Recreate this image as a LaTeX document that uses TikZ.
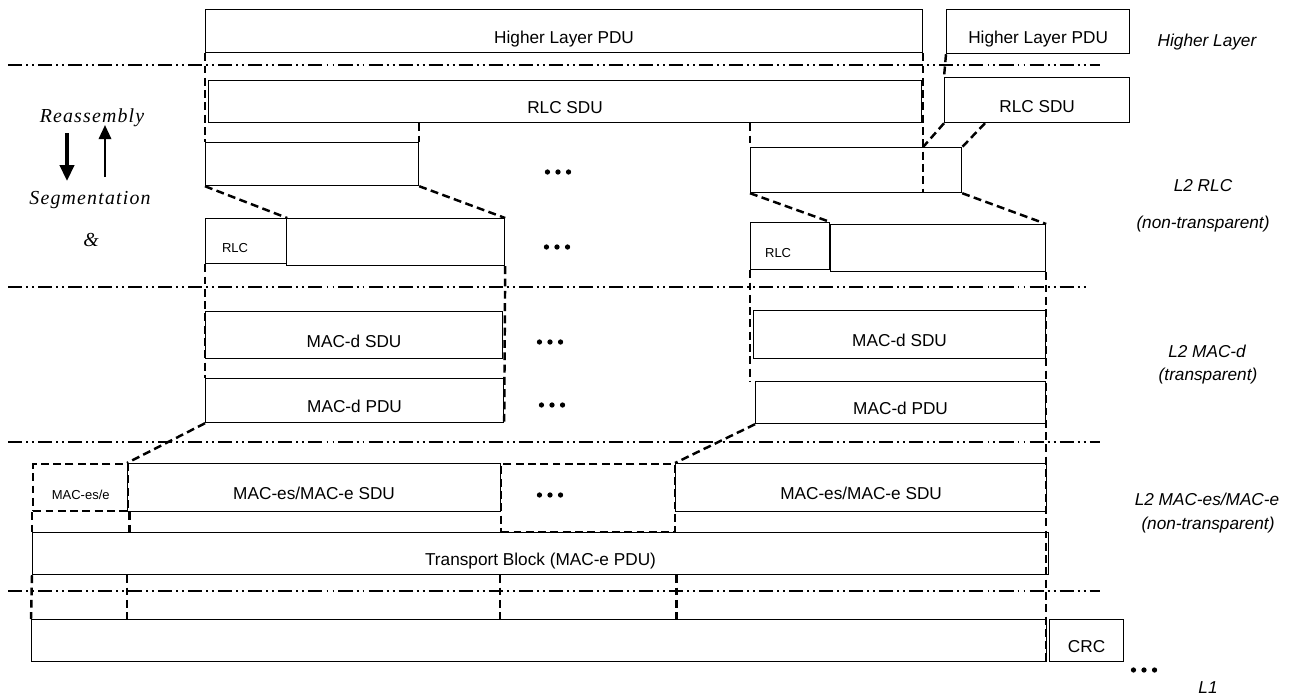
\documentclass[tikz,border=0pt]{standalone}
\usepackage{fontspec}
\setmainfont{Liberation Sans}
\newfontfamily\eqfont[LetterSpace=6]{Liberation Serif}
\usepackage{tikz}
\usetikzlibrary{arrows.meta}

\newcommand{\threedots}{\tikz{\foreach \k in {0,1,2}{\fill (\k*6pt,0pt) circle (1.5pt);}}}

\begin{document}
\begin{tikzpicture}[x=0.02cm, y=-0.02cm]

\tikzstyle{every node} = [inner sep=0pt]
\tikzstyle{pdu} = [draw, rectangle, anchor=north west, line width=0.7pt, text height=13.8pt, text depth=0pt, font=\fontsize{9.8}{11}\selectfont]
\tikzstyle{hdr} = [pdu, dash pattern=on 4.5pt off 2.5pt, line width=1.4pt]
\tikzstyle{tag} = [font=\fontsize{7.4}{9}\selectfont]
\tikzstyle{layer} = [font=\itshape\fontsize{9.8}{11}\selectfont]
\tikzstyle{proc} = [font=\eqfont\itshape\fontsize{11.3}{13}\selectfont]
\tikzstyle{cut} = [line width=1.4pt, dash pattern=on 4.5pt off 2.5pt]
\tikzstyle{sep} = [line width=1.3pt, dash pattern=on 8pt off 2.3pt on 1.1pt off 2.3pt on 1.1pt off 2.3pt]

\useasboundingbox (0,0) rectangle (1290,697);

% layer separators
\foreach \y/\e in {65/1100, 287/1087, 442/1100, 591/1100}
  \draw[sep] (8,\y) -- (\e,\y);

% higher layer
\node[pdu, minimum width=14.34cm, minimum height=0.86cm] (hp1) at (205,9) {Higher Layer PDU};
\node[pdu, minimum width=3.66cm, minimum height=0.88cm] (hp2) at (946,9) {Higher Layer PDU};

% RLC
\node[pdu, minimum width=14.26cm, minimum height=0.84cm] (rs1) at (208,80) {RLC SDU};
\node[pdu, minimum width=3.70cm, minimum height=0.90cm] (rs2) at (944,77) {RLC SDU};

\node[pdu, minimum width=4.26cm, minimum height=0.86cm] (rp1) at (205,142) {};
\node[pdu, minimum width=4.22cm, minimum height=0.90cm] (rp2) at (750,147) {};

\node[pdu, minimum width=1.62cm, minimum height=0.90cm] (rh1) at (205,218) {};
\node[pdu, minimum width=4.36cm, minimum height=0.94cm] (rd1) at (286,218) {};
\node[pdu, minimum width=1.58cm, minimum height=0.94cm] (rh2) at (750,222) {};
\node[pdu, minimum width=4.30cm, minimum height=0.94cm] (rd2) at (830,224) {};
\node[tag] (rt1) at ([xshift=-0.22cm, yshift=-0.13cm]rh1.center) {RLC};
\node[tag] (rt2) at ([xshift=-0.24cm, yshift=-0.13cm]rh2.center) {RLC};

% MAC-d
\node[pdu, minimum width=5.94cm, minimum height=0.94cm] (ds1) at (205,311) {MAC-d SDU};
\node[pdu, minimum width=5.96cm, minimum height=0.88cm] (dp1) at (205,378) {MAC-d PDU};
\node[pdu, minimum width=5.84cm, minimum height=0.96cm] (ds2) at (753,310) {MAC-d SDU};
\node[pdu, minimum width=5.80cm, minimum height=0.84cm] (dp2) at (755,381) {MAC-d PDU};

% MAC-es/MAC-e
\node[hdr, minimum width=1.90cm, minimum height=0.94cm, font=\fontsize{7.4}{9}\selectfont] (eh) at (32,463) {MAC-es/e};
\node[pdu, minimum width=7.46cm, minimum height=0.96cm] (es1) at (127,463) {MAC-es/MAC-e SDU};
\node[hdr, minimum width=3.48cm, minimum height=1.36cm] (em) at (500,463) {};
\node[pdu, minimum width=7.42cm, minimum height=0.96cm] (es2) at (675,463) {MAC-es/MAC-e SDU};
\node[pdu, minimum width=20.32cm, minimum height=0.84cm] (tb) at (32,532) {Transport Block (MAC-e PDU)};

% L1
\node[pdu, minimum width=20.30cm, minimum height=0.84cm] (l1) at (31,619) {};
\node[pdu, minimum width=1.48cm, minimum height=0.84cm] (crc) at (1049,619) {CRC};

% gaps
\node (g1) at (558,172) {\threedots};
\node (g2) at (557,247) {\threedots};
\node (g3) at (550,342) {\threedots};
\node (g4) at (552,405) {\threedots};
\node (g5) at (550,495) {\threedots};
\node (g6) at (1144,670) {\threedots};

% layer names
\node[layer] (n1) at (1207,42) {Higher Layer};
\node[layer] (n2) at (1203,186) {L2 RLC};
\node[layer] (n3) at (1203,224) {(non-transparent)};
\node[layer] (n4) at (1207,351) {L2 MAC-d};
\node[layer] (n5) at (1208,376) {(transparent)};
\node[layer] (n6) at (1207,499) {L2 MAC-es/MAC-e};
\node[layer] (n7) at (1208,525) {(non-transparent)};
\node[layer] (n8) at (1208,688) {L1};

\node[proc] (ra) at (92,118) {Reassembly};
\node[proc] (sg) at (90,200) {Segmentation};
\node[proc] (am) at (91,240) {\&};
\coordinate (sa) at (67,133);
\coordinate (sb) at (67,181);
\coordinate (ua) at (105,177);
\coordinate (ub) at (105,125);
\draw[line width=2pt, -{Triangle[width=8pt, length=9pt]}] (sa) -- (sb);
\draw[line width=1.4pt, -{Triangle[width=7pt, length=8pt]}] (ua) -- (ub);

% segmentation lines
\draw[cut] (hp1.south west) -- (rp1.north west);
\draw[cut] (rp1.north east |- rs1.south) -- (rp1.north east);
\draw[cut] (rp2.north west |- rs1.south) -- (rp2.north west);
\draw[cut] (hp1.south east) -- (hp1.south east |- rp2.south);
\draw[cut] (hp2.south west) -- (rs2.north west);
\draw[cut] (rs2.south west) -- (hp1.south east |- rp2.north);
\draw[cut] ([xshift=0.82cm]rs2.south west) -- (rp2.north east);

\draw[cut] (rp1.south west) -- (rh1.north east);
\draw[cut] (rp1.south east) -- (rd1.north east);
\draw[cut] (rp2.south west) -- (rh2.north east);
\draw[cut] (rp2.south east) -- (rd2.north east);

\draw[cut] (rh1.south west) -- (dp1.north west);
\draw[cut] (rd1.south east) -- (dp1.south east);
\draw[cut] (rh2.south west) -- (rh2.south west |- dp2.north);
\draw[cut] (rd2.south east) -- (rd2.south east |- l1.south);

\draw[cut] (dp1.south west) -- (es1.north west);
\draw[cut] (dp2.south west) -- (es2.north west);

\draw[cut] (eh.south west) -- (tb.north west);
\draw[cut] (eh.south east) -- (eh.south east |- tb.north);
\draw[cut] (tb.south west) -- (l1.north west);
\draw[cut] (tb.south -| es1.west) -- (l1.north -| es1.west);
\draw[cut] (tb.south -| em.west) -- (l1.north -| em.west);
\draw[cut] (tb.south -| em.east) -- (l1.north -| em.east);

\end{tikzpicture}
\end{document}
